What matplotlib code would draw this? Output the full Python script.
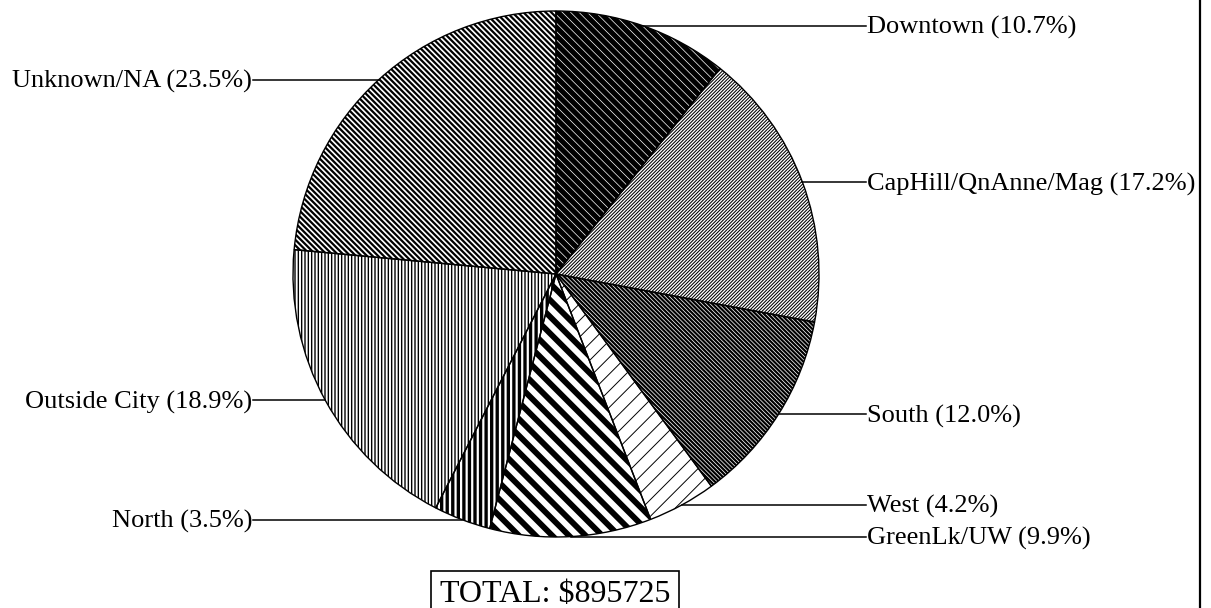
import numpy as np
import matplotlib
matplotlib.use("Agg")
import matplotlib.pyplot as plt

# Share of total by region (percent), clockwise from 12 o'clock
regions = ["Downtown", "CapHill/QnAnne/Mag", "South", "West",
           "GreenLk/UW", "North", "Outside City", "Unknown/NA"]
shares = [10.7, 17.2, 12.0, 4.2, 9.9, 3.5, 18.9, 23.5]
total_label = "TOTAL: $895725"

# hatch style per slice: (hatch, face colour, hatch colour, hatch linewidth)
styles = [
    ("\\" * 4, "black", "white", 0.5),
    ("/" * 10, "white", "black", 0.75),
    ("\\" * 8, "white", "black", 1.6),
    ("/" * 2, "white", "black", 0.7),
    ("\\" * 2, "white", "black", 4.2),
    ("|" * 3, "white", "black", 2.4),
    ("|" * 5, "white", "black", 1.0),
    ("\\" * 6, "white", "black", 1.6),
]

W, H = 1211, 608
fig = plt.figure(figsize=(W / 100, H / 100), dpi=100)
ax = fig.add_axes([0, 0, 1, 1])

cx, cy, r = 556, H - 274, 263

# hatched fills
wedges, _ = ax.pie(shares, startangle=90, counterclock=False,
                   center=(cx, cy), radius=r,
                   colors=["white"] * len(shares), wedgeprops=dict(linewidth=0))
for w, (hatch, fc, hc, hlw) in zip(wedges, styles):
    w.set_facecolor(fc)
    w.set_edgecolor(hc)
    w.set_linewidth(0)
    w.set_hatch(hatch)
    if hasattr(w, "set_hatch_linewidth"):
        w.set_hatch_linewidth(hlw)

# black outlines on top
ax.pie(shares, startangle=90, counterclock=False, center=(cx, cy), radius=r,
       wedgeprops=dict(fill=False, edgecolor="black", linewidth=1.0))

# labels with horizontal leader lines
font = ["Liberation Serif", "DejaVu Serif"]
for w, name, val in zip(wedges, regions, shares):
    mid = np.deg2rad((w.theta1 + w.theta2) / 2)
    px = cx + r * np.cos(mid)
    py = cy + r * np.sin(mid)
    label = f"{name} ({val:.1f}%)"
    if px >= cx:
        ax.plot([px, 866], [py, py], color="black", lw=1.1)
        ax.text(867, py - 2, label, ha="left", va="center", fontsize=19, family=font)
    else:
        ax.plot([253, px], [py, py], color="black", lw=1.1)
        ax.text(252, py - 2, label, ha="right", va="center", fontsize=19, family=font)

ax.text(440, 6, total_label, ha="left", va="baseline", fontsize=23, family=font,
        bbox=dict(boxstyle="square,pad=0.28", facecolor="white", edgecolor="black", lw=1.2))

ax.axvline(1200, color="black", lw=1.6)

ax.set_xlim(0, W)
ax.set_ylim(0, H)
ax.set_aspect("auto")
ax.axis("off")

fig.savefig("out.png", dpi=100, facecolor="white")
